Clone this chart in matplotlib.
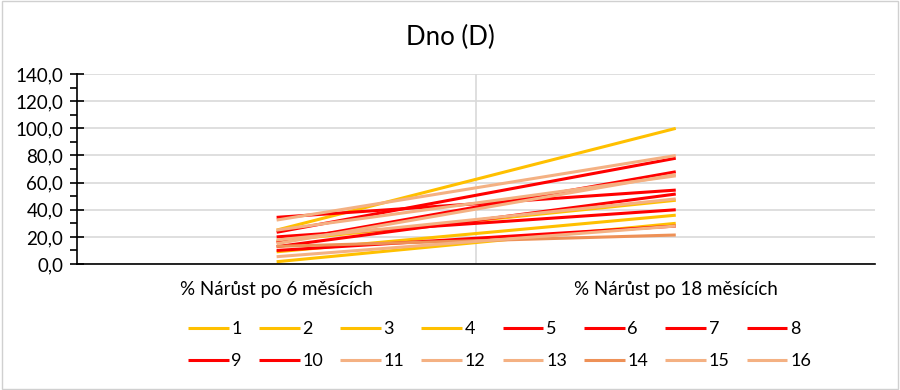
import matplotlib.pyplot as plt
import numpy as np
from matplotlib.ticker import MultipleLocator, FuncFormatter

plt.rcParams['font.family'] = ['Lato', 'DejaVu Sans']

categories = ['% Nárůst po 6 měsících', '% Nárůst po 18 měsících']
series_names = [str(i) for i in range(1, 17)]
after_6 = [25, 9, 17, 1.7, 34.4, 23.4, 16, 12.8, 20, 10, 32.4, 25, 17.7, 13, 15, 5.4]
after_18 = [100, 36, 47, 30, 54.5, 78, 68, 51.6, 40, 28, 80, 65, 48, 21.4, 66, 28]

yellow = '#FFC000'
red = '#FF0000'
salmon = '#F4B183'
orange = '#EE9157'
colors = [yellow] * 4 + [red] * 6 + [salmon] * 3 + [orange] + [salmon] * 2

fig = plt.figure(figsize=(9, 3.9), dpi=100)
ax = fig.add_axes([0.0856, 0.323, 0.887, 0.487])

x = np.arange(len(categories))
handles = []
for name, a, b, c in zip(series_names, after_6, after_18, colors):
    h, = ax.plot(x, [a, b], color=c, lw=2.2, label=name, solid_capstyle='butt')
    handles.append(h)

ax.set_xlim(-0.5, 1.5)
ax.set_ylim(0, 140)
ax.yaxis.set_major_locator(MultipleLocator(20))
ax.yaxis.set_minor_locator(MultipleLocator(10))
ax.yaxis.set_major_formatter(FuncFormatter(lambda v, p: f'{v:.1f}'.replace('.', ',')))
ax.set_xticks(x)
ax.set_xticklabels(categories, fontsize=13.5)
ax.tick_params(axis='x', length=0, pad=12)
ax.tick_params(axis='y', which='major', direction='inout', length=10, width=1.2, labelsize=13.5, pad=5)
ax.tick_params(axis='y', which='minor', direction='out', length=5, width=1.2)

ax.grid(axis='y', which='major', color='#D9D9D9', lw=1.2)
ax.axvline(0.5, color='#D9D9D9', lw=1.2, zorder=0)
ax.set_axisbelow(True)
for s in ['top', 'right']:
    ax.spines[s].set_visible(False)
ax.spines['left'].set_color('black')
ax.spines['left'].set_linewidth(1.2)
ax.spines['bottom'].set_color('black')
ax.spines['bottom'].set_linewidth(1.2)

fig.suptitle('Dno (D)', y=0.935, fontsize=18.5)

# legend fills column-wise, so interleave to get rows 1-8 and 9-16
order = [i + r * 8 for i in range(8) for r in range(2)]
fig.legend([handles[i] for i in order], [series_names[i] for i in order],
           loc='center', bbox_to_anchor=(0.555, 0.115), ncol=8, frameon=False,
           fontsize=13, handlelength=2.25, columnspacing=0.95, handletextpad=0.15,
           labelspacing=0.85)

fig.patches.append(plt.Rectangle((0.002, 0.003), 0.996, 0.994, transform=fig.transFigure,
                                 fill=False, edgecolor='#D0D0D0', lw=1))

fig.savefig('out.png', dpi=100)
